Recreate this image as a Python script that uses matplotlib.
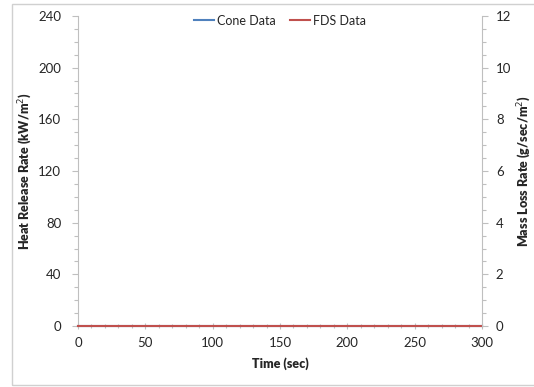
import matplotlib
matplotlib.use("Agg")
import matplotlib.pyplot as plt
from matplotlib.ticker import MultipleLocator
from matplotlib.patches import Rectangle

plt.rcParams['font.family'] = ['Lato', 'DejaVu Sans']

# Data series
time_sec = [0, 50, 100, 150, 200, 250, 300]
cone_hrr = [0, 0, 0, 0, 0, 0, 0]
fds_hrr = [0, 0, 0, 0, 0, 0, 0]

x_ticks = [0, 50, 100, 150, 200, 250, 300]
hrr_ticks = [0, 40, 80, 120, 160, 200, 240]
mlr_ticks = [0, 2, 4, 6, 8, 10, 12]

spine_color = '#BFBFBF'
text_color = '#262626'

fig = plt.figure(figsize=(5.34, 3.87), dpi=100)
fig.patches.append(Rectangle((0.023, 0.005), 0.985, 0.985, transform=fig.transFigure,
                             fill=False, edgecolor='#D0D0D0', linewidth=1.0))
ax = fig.add_axes([78 / 534, 1 - 326 / 387, (482 - 78) / 534, (326 - 16) / 387])
ax2 = ax.twinx()

ax.plot(time_sec, cone_hrr, color='#4F81BD', linewidth=1.5, label='Cone Data', clip_on=False, zorder=3)
ax.plot(time_sec, fds_hrr, color='#C0504D', linewidth=1.5, label='FDS Data', clip_on=False, zorder=4)

ax.set_xlim(0, 300)
ax.set_ylim(0, 240)
ax2.set_ylim(0, 12)
ax.set_xticks(x_ticks)
ax.set_yticks(hrr_ticks)
ax2.set_yticks(mlr_ticks)
ax.xaxis.set_minor_locator(MultipleLocator(10))
ax.yaxis.set_minor_locator(MultipleLocator(10))
ax2.yaxis.set_minor_locator(MultipleLocator(0.5))

for a in (ax, ax2):
    for s in a.spines.values():
        s.set_visible(False)
    a.tick_params(which='both', colors=spine_color, labelcolor=text_color, labelsize=9.5)
    a.tick_params(which='major', length=4, width=0.8)
    a.tick_params(which='minor', length=3, width=0.8)

ax.spines['left'].set_visible(True)
ax.spines['left'].set_color(spine_color)
ax.spines['bottom'].set_visible(True)
ax.spines['bottom'].set_color(spine_color)
ax2.spines['right'].set_visible(True)
ax2.spines['right'].set_color(spine_color)
ax.tick_params(axis='x', which='both', direction='inout', pad=6)
ax.tick_params(axis='y', pad=8)
ax2.tick_params(axis='y', pad=6)

ax.set_xlabel('Time (sec)', fontsize=9, fontweight='heavy', color=text_color, labelpad=6)
ax.set_ylabel('Heat Release Rate (kW/m$^2$)', fontsize=9, fontweight='heavy', color=text_color)
ax2.set_ylabel('Mass Loss Rate (g/sec/m$^2$)', fontsize=9, fontweight='heavy', color=text_color)
ax.yaxis.set_label_coords(-0.106, 0.5)
ax2.yaxis.set_label_coords(1.084, 0.5)

leg = ax.legend(loc='upper center', bbox_to_anchor=(0.5, 1.04), ncol=2, frameon=False,
                fontsize=9, handlelength=1.6, handletextpad=0.2, columnspacing=1.2)
for t in leg.get_texts():
    t.set_color(text_color)

fig.savefig('out.png', dpi=100)
